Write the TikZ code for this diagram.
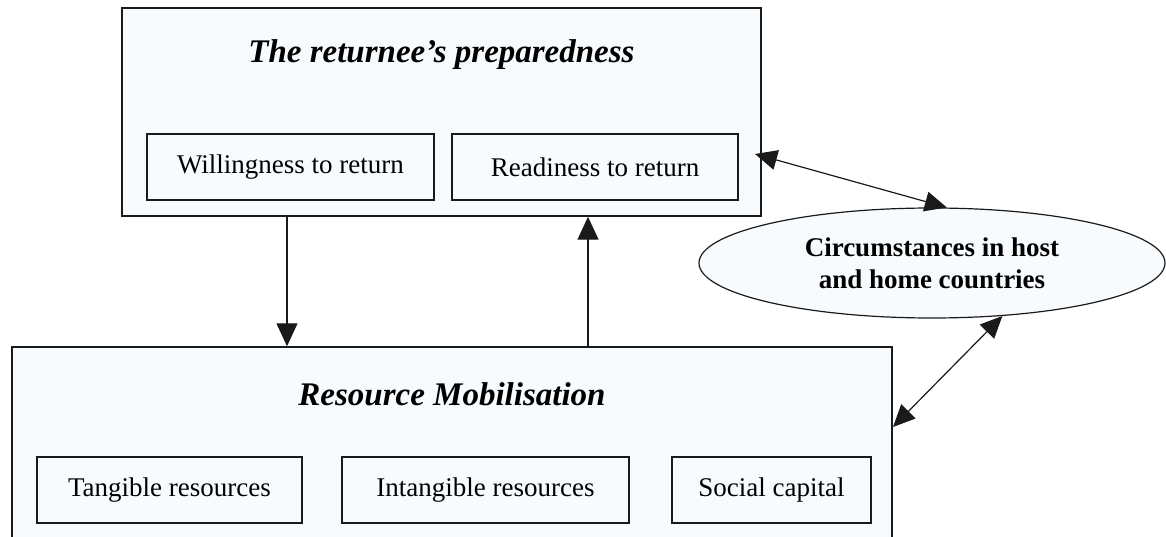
\documentclass[tikz,border=0pt]{standalone}
\usepackage{fontspec}
\setmainfont{Liberation Serif}
\usetikzlibrary{arrows.meta,shapes.geometric,calc}
\definecolor{boxfill}{HTML}{F8FBFE}
\definecolor{inkc}{HTML}{1A1A1A}
\tikzset{
  outerbox/.style={draw=inkc, line width=1.5pt, fill=boxfill, inner sep=0pt},
  innerbox/.style={draw=inkc, line width=1.5pt, fill=boxfill, inner sep=0pt,
    minimum height=66pt, font=\fontsize{27}{32}\selectfont},
  titletext/.style={font=\fontsize{33}{38}\selectfont\bfseries\itshape, inner sep=0pt, anchor=base},
  circle box/.style={ellipse, draw=inkc, line width=1.2pt, fill=boxfill, inner sep=0pt,
    minimum width=466pt, minimum height=110pt, align=center,
    font=\fontsize{27}{32}\selectfont\bfseries},
  arr/.style={line width=1.3pt, draw=inkc, -{Triangle[length=23pt,width=21pt]}},
  darr/.style={line width=1.2pt, draw=inkc, {Triangle[length=22pt,width=20pt]}-{Triangle[length=22pt,width=20pt]}}
}
\begin{document}
\begin{tikzpicture}[x=1pt,y=-1pt]
\clip (0,0) rectangle (1166,537);
\fill[white] (0,0) rectangle (1166,537);
% top box
\node[outerbox, minimum width=639pt, minimum height=208pt] (top) at (441.5,112) {};
\node[titletext] (toptitle) at (441.5,63) {The returnee’s preparedness};
\node[innerbox, minimum width=287pt] (wl) at (290.5,167) {Willingness to return};
\node[innerbox, minimum width=286pt] (rd) at (595,167) {Readiness to return};
% bottom box
\node[outerbox, minimum width=880pt, minimum height=213pt] (bot) at (452,453.5) {};
\node[titletext] (bottitle) at (452,405) {Resource Mobilisation};
\node[innerbox, minimum width=265pt] (tg) at (169.5,490) {Tangible resources};
\node[innerbox, minimum width=287pt] (itg) at (485.5,490) {Intangible resources};
\node[innerbox, minimum width=199pt] (sc) at (771.5,490) {Social capital};
% ellipse
\node[circle box] (circ) at (932,263) {Circumstances in host\\and home countries};
% helper coordinates
\coordinate (xd) at (287,0);
\coordinate (xu) at (588,0);
\coordinate (ra) at (755,154);
\coordinate (ba) at (893,427);
% connectors
\draw[arr] (top.south -| xd) -- (bot.north -| xd);
\draw[arr] (bot.north -| xu) -- (top.south -| xu);
\draw[darr] (ra) -- (circ.75);
\draw[darr] (circ.-37) -- (ba);
\end{tikzpicture}
\end{document}
